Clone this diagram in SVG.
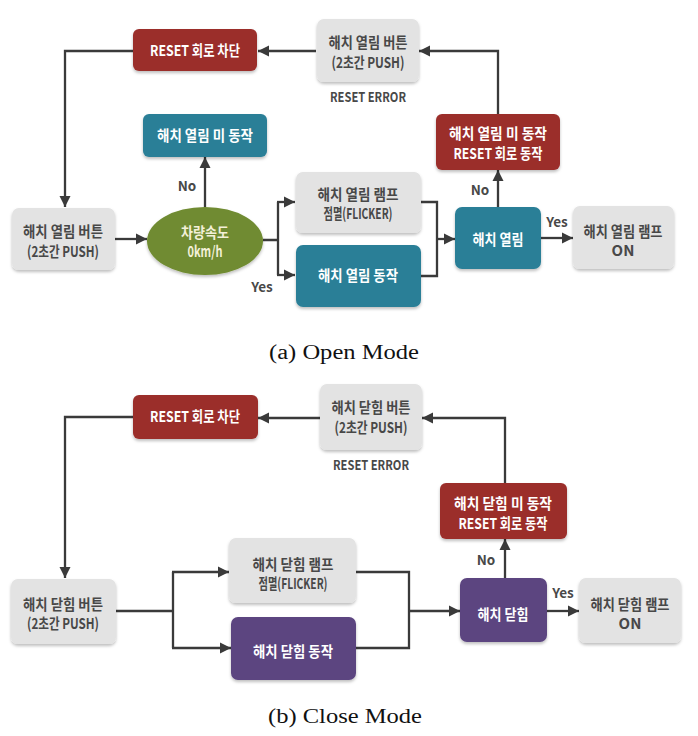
<svg xmlns="http://www.w3.org/2000/svg" width="698" height="736" viewBox="0 0 698 736">
<defs>
<filter id="sh" x="-10%" y="-10%" width="120%" height="130%">
<feDropShadow dx="0" dy="2" stdDeviation="1.5" flood-color="#000" flood-opacity="0.25"/>
</filter>
<marker id="ah" markerUnits="userSpaceOnUse" markerWidth="12" markerHeight="12" refX="11" refY="6" orient="auto">
<path d="M0,0.5 L11,6 L0,11.5 z" fill="#3a3a3a"/>
</marker>
<style>
.box{filter:url(#sh)}
.red{fill:#9b2e2c}
.teal{fill:#2b7f97}
.grey{fill:#e3e3e3}
.green{fill:#6f8b30}
.purple{fill:#5b4480}
text{font-family:"Noto Sans CJK KR","Noto Sans",sans-serif;font-weight:700;text-anchor:middle}
.w{fill:#ffffff;font-size:15px}
.g{fill:#484848;font-size:15px}
.lab{fill:#484848;font-size:13.5px}
.cap{font-family:"Liberation Serif",serif;font-weight:400;font-size:20px;fill:#111}
.c{fill:none;stroke:#3a3a3a;stroke-width:2.3}
.a{marker-end:url(#ah)}
</style>
</defs>
<rect width="698" height="736" fill="#ffffff"/>

<g id="connectors">
<!-- (a) -->
<path class="c a" d="M133,51 H65 V207"/>
<path class="c a" d="M316,51 H258"/>
<path class="c a" d="M498,114 V51 H419"/>
<path class="c a" d="M498,207 V170"/>
<path class="c a" d="M115,239 H147"/>
<path class="c a" d="M205,207 V157"/>
<path class="c" d="M263,240 H278 M278,202 V275"/>
<path class="c a" d="M277,202 H295"/>
<path class="c a" d="M277,275 H295"/>
<path class="c" d="M421,202 H437 V276 H421"/>
<path class="c a" d="M437,239 H455"/>
<path class="c a" d="M541,238 H573"/>
<!-- (b) -->
<path class="c a" d="M133,417 H65 V578"/>
<path class="c a" d="M320,418 H258"/>
<path class="c a" d="M505,483 V418 H422"/>
<path class="c a" d="M505,578 V539"/>
<path class="c" d="M116,611 H173 M173,572 V648"/>
<path class="c a" d="M172,572 H229"/>
<path class="c a" d="M172,648 H231"/>
<path class="c" d="M356,572 H409 V648 H356"/>
<path class="c a" d="M409,611 H460"/>
<path class="c a" d="M547,611 H579"/>
</g>

<g id="labels">
<text class="lab" x="187" y="191">No</text>
<text class="lab" x="262" y="292">Yes</text>
<text class="lab" x="480" y="195">No</text>
<text class="lab" x="557" y="227">Yes</text>
<text class="lab" x="368" y="102" textLength="76" lengthAdjust="spacingAndGlyphs">RESET ERROR</text>
<text class="lab" x="486" y="565">No</text>
<text class="lab" x="563" y="598">Yes</text>
<text class="lab" x="371" y="470" textLength="76" lengthAdjust="spacingAndGlyphs">RESET ERROR</text>
</g>

<!-- (a) Open Mode -->
<g id="a_reset_block">
<rect class="box red" x="133" y="29" width="124" height="42" rx="6"/>
<text class="w" x="195" y="56" textLength="90" lengthAdjust="spacingAndGlyphs">RESET 회로 차단</text>
</g>
<g id="a_button_top">
<rect class="box grey" x="317" y="19" width="102" height="63" rx="7"/>
<text class="g" x="368" y="48" textLength="79" lengthAdjust="spacingAndGlyphs">해치 열림 버튼</text>
<text class="g" x="368" y="68" textLength="73" lengthAdjust="spacingAndGlyphs">(2초간 PUSH)</text>
</g>
<g id="a_not_open">
<rect class="box teal" x="143" y="114" width="124" height="43" rx="6"/>
<text class="w" x="205" y="141" textLength="96" lengthAdjust="spacingAndGlyphs">해치 열림 미 동작</text>
</g>
<g id="a_reset_run">
<rect class="box red" x="436" y="114" width="124" height="56" rx="6"/>
<text class="w" x="498" y="139" textLength="98" lengthAdjust="spacingAndGlyphs">해치 열림 미 동작</text>
<text class="w" x="498" y="159" textLength="89" lengthAdjust="spacingAndGlyphs">RESET 회로 동작</text>
</g>
<g id="a_button">
<rect class="box grey" x="12" y="208" width="103" height="62" rx="7"/>
<text class="g" x="63" y="237" textLength="80" lengthAdjust="spacingAndGlyphs">해치 열림 버튼</text>
<text class="g" x="63" y="257" textLength="72" lengthAdjust="spacingAndGlyphs">(2초간 PUSH)</text>
</g>
<g id="a_speed">
<ellipse class="box green" cx="205" cy="241" rx="58" ry="34"/>
<text class="w" x="205" y="238" style="fill:#f3f0d8" textLength="48" lengthAdjust="spacingAndGlyphs">차량속도</text>
<text class="w" x="205" y="257" style="fill:#f3f0d8" textLength="35" lengthAdjust="spacingAndGlyphs">0km/h</text>
</g>
<g id="a_flicker">
<rect class="box grey" x="296" y="172" width="125" height="61" rx="7"/>
<text class="g" x="358" y="200" textLength="81" lengthAdjust="spacingAndGlyphs">해치 열림 램프</text>
<text class="g" x="358" y="219" textLength="69" lengthAdjust="spacingAndGlyphs">점멸(FLICKER)</text>
</g>
<g id="a_open_act">
<rect class="box teal" x="296" y="245" width="125" height="62" rx="7"/>
<text class="w" x="358" y="281" textLength="80" lengthAdjust="spacingAndGlyphs">해치 열림 동작</text>
</g>
<g id="a_open">
<rect class="box teal" x="455" y="207" width="86" height="62" rx="7"/>
<text class="w" x="498" y="245" textLength="51" lengthAdjust="spacingAndGlyphs">해치 열림</text>
</g>
<g id="a_lamp_on">
<rect class="box grey" x="573" y="206" width="101" height="63" rx="7"/>
<text class="g" x="623" y="237" textLength="79" lengthAdjust="spacingAndGlyphs">해치 열림 램프</text>
<text class="g" x="623" y="256">ON</text>
</g>
<text id="cap_a" class="cap" x="344" y="359" textLength="150" lengthAdjust="spacingAndGlyphs">(a) Open Mode</text>

<!-- (b) Close Mode -->
<g id="b_reset_block">
<rect class="box red" x="133" y="395" width="125" height="44" rx="6"/>
<text class="w" x="195" y="422" textLength="90" lengthAdjust="spacingAndGlyphs">RESET 회로 차단</text>
</g>
<g id="b_button_top">
<rect class="box grey" x="320" y="384" width="102" height="66" rx="7"/>
<text class="g" x="371" y="413" textLength="79" lengthAdjust="spacingAndGlyphs">해치 닫힘 버튼</text>
<text class="g" x="371" y="433" textLength="73" lengthAdjust="spacingAndGlyphs">(2초간 PUSH)</text>
</g>
<g id="b_reset_run">
<rect class="box red" x="440" y="483" width="127" height="56" rx="6"/>
<text class="w" x="503" y="509" textLength="98" lengthAdjust="spacingAndGlyphs">해치 닫힘 미 동작</text>
<text class="w" x="503" y="529" textLength="89" lengthAdjust="spacingAndGlyphs">RESET 회로 동작</text>
</g>
<g id="b_button">
<rect class="box grey" x="11" y="579" width="105" height="65" rx="7"/>
<text class="g" x="63" y="610" textLength="80" lengthAdjust="spacingAndGlyphs">해치 닫힘 버튼</text>
<text class="g" x="63" y="629" textLength="72" lengthAdjust="spacingAndGlyphs">(2초간 PUSH)</text>
</g>
<g id="b_flicker">
<rect class="box grey" x="229" y="538" width="127" height="65" rx="7"/>
<text class="g" x="293" y="570" textLength="81" lengthAdjust="spacingAndGlyphs">해치 닫힘 램프</text>
<text class="g" x="293" y="589" textLength="69" lengthAdjust="spacingAndGlyphs">점멸(FLICKER)</text>
</g>
<g id="b_close_act">
<rect class="box purple" x="231" y="617" width="125" height="63" rx="7"/>
<text class="w" x="293" y="657" textLength="80" lengthAdjust="spacingAndGlyphs">해치 닫힘 동작</text>
</g>
<g id="b_close">
<rect class="box purple" x="460" y="578" width="87" height="64" rx="7"/>
<text class="w" x="503" y="620" textLength="51" lengthAdjust="spacingAndGlyphs">해치 닫힘</text>
</g>
<g id="b_lamp_on">
<rect class="box grey" x="579" y="578" width="102" height="65" rx="7"/>
<text class="g" x="630" y="610" textLength="79" lengthAdjust="spacingAndGlyphs">해치 닫힘 램프</text>
<text class="g" x="630" y="629">ON</text>
</g>
<text id="cap_b" class="cap" x="345" y="723" textLength="154" lengthAdjust="spacingAndGlyphs">(b) Close Mode</text>
</svg>
